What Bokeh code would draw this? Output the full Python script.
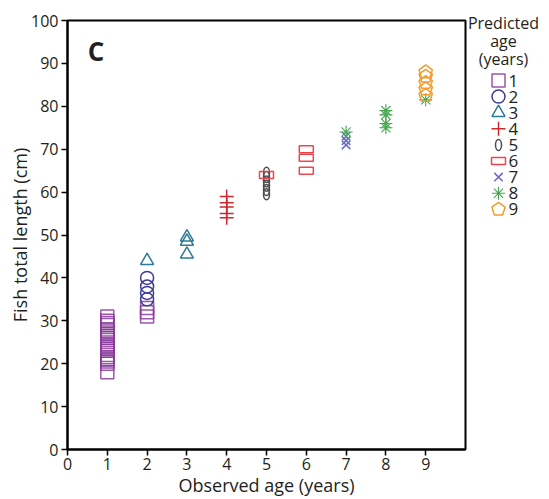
from bokeh.plotting import figure
from bokeh.models import Range1d, FixedTicker, Label
from bokeh.layouts import row
from bokeh.embed import file_html
from bokeh.resources import INLINE
from bokeh.core.properties import value

# ---- data: observed age (x) and total length (cm) grouped by predicted age ----
predicted_ages = [1, 2, 3, 4, 5, 6, 7, 8, 9]

obs_p1 = [1, 1, 1, 1, 1, 1, 1, 1, 1, 1, 1, 1, 1, 1, 1, 1, 1, 1, 1, 1, 2, 2, 2]
len_p1 = [18, 20, 20.5, 21, 21.5, 22, 23, 23.5, 24, 24.5, 25.5, 26, 26.5, 27,
          27.5, 28, 29, 29.5, 30, 31, 31, 32, 33]

obs_p2 = [2, 2, 2, 2]
len_p2 = [35, 36.5, 38, 40]

obs_p3 = [2, 3, 3, 3]
len_p3 = [44, 45.5, 48.5, 49.5]

obs_p4 = [4, 4, 4, 4, 4]
len_p4 = [54, 55, 56.5, 57.5, 59]

obs_p5 = [5, 5, 5, 5, 5, 5]
len_p5 = [59.5, 60.5, 61.5, 62.5, 63.5, 64.5]

obs_p6 = [5, 6, 6, 6]
len_p6 = [64, 65, 68, 70]

obs_p7 = [7, 7, 7]
len_p7 = [71, 72, 73]

obs_p8 = [7, 8, 8, 8, 8, 9]
len_p8 = [74, 75, 76, 78, 79, 81.5]

obs_p9 = [9, 9, 9, 9, 9]
len_p9 = [82.5, 84, 85.5, 87, 88]

x_ticks = [0, 1, 2, 3, 4, 5, 6, 7, 8, 9]
y_ticks = [0, 10, 20, 30, 40, 50, 60, 70, 80, 90, 100]

COLORS = {
    1: "#8A3A9C", 2: "#3E3A9A", 3: "#2C7A93", 4: "#CC2A2E", 5: "#4D4D4D",
    6: "#EE4650", 7: "#6B6BC4", 8: "#44A94E", 9: "#F39C2C",
}
FONT = "Open Sans"
TEXT_COLOR = "#231F20"
LW = 1.5


def draw_marker(fig, age, xs, ys):
    """Draw the symbol used for one predicted-age class."""
    c = COLORS[age]
    common = dict(line_color=c, line_width=LW)
    if age == 1:
        fig.scatter(xs, ys, marker="square", size=13, fill_color=None, line_alpha=0.85, **common)
    elif age == 2:
        fig.scatter(xs, ys, marker="circle", size=13, fill_color=None, **common)
    elif age == 3:
        fig.scatter(xs, ys, marker="triangle", size=13, fill_color=None, **common)
    elif age == 4:
        fig.scatter(xs, ys, marker="cross", size=14, **common)
    elif age == 5:
        fig.ellipse(xs, ys, width=6, height=11, width_units="screen",
                    height_units="screen", fill_color=None, **common)
    elif age == 6:
        fig.rect(xs, ys, width=14, height=7, width_units="screen",
                 height_units="screen", fill_color=None, **common)
    elif age == 7:
        fig.scatter(xs, ys, marker="x", size=12, **common)
    elif age == 8:
        fig.scatter(xs, ys, marker="asterisk", size=13, line_color=c, line_width=1.1)
    elif age == 9:
        fig.ngon(xs, ys, radius=7, radius_units="screen", n=5, angle=0,
                 fill_color=None, **common)


# ---- main scatter plot ----
p = figure(width=467, height=499, output_backend="svg", toolbar_location=None,
           x_range=Range1d(0, 10), y_range=Range1d(0, 100),
           min_border_left=67, min_border_right=2, min_border_top=20,
           min_border_bottom=47)
p.grid.visible = False
p.outline_line_color = "black"
p.outline_line_width = 2
p.background_fill_color = "white"
p.border_fill_color = "white"

p.xaxis.ticker = FixedTicker(ticks=x_ticks)
p.yaxis.ticker = FixedTicker(ticks=y_ticks)
p.xaxis.axis_label = "Observed age (years)"
p.yaxis.axis_label = "Fish total length (cm)"
for ax in (p.xaxis, p.yaxis):
    ax.axis_line_width = 2
    ax.axis_line_color = "black"
    ax.major_tick_in = 0
    ax.major_tick_out = 6
    ax.major_tick_line_width = 1.5
    ax.minor_tick_line_color = None
    ax.major_label_text_font = FONT
    ax.major_label_text_font_size = "16px"
    ax.major_label_text_color = TEXT_COLOR
    ax.axis_label_text_font = FONT
    ax.axis_label_text_font_size = "18px"
    ax.axis_label_text_font_style = "normal"
    ax.axis_label_text_color = TEXT_COLOR
p.xaxis.major_label_standoff = 2
p.xaxis.axis_label_standoff = 0
p.yaxis.major_label_standoff = 3
p.yaxis.axis_label_standoff = -4

series = {
    1: (obs_p1, len_p1), 2: (obs_p2, len_p2), 3: (obs_p3, len_p3),
    4: (obs_p4, len_p4), 5: (obs_p5, len_p5), 6: (obs_p6, len_p6),
    7: (obs_p7, len_p7), 8: (obs_p8, len_p8), 9: (obs_p9, len_p9),
}
for age in predicted_ages:
    xs, ys = series[age]
    draw_marker(p, age, xs, ys)

p.add_layout(Label(x=0.72, y=93, text="C", text_font=FONT, text_font_size="26px",
                   text_font_style="bold", text_align="center",
                   text_baseline="middle", text_color=TEXT_COLOR))

# ---- legend panel: its own full-height frame, y coordinates in pixels from the top ----
LEG_W = 82
LEG_H = 499
leg = figure(width=LEG_W, height=LEG_H, output_backend="svg", toolbar_location=None,
             x_range=Range1d(0, LEG_W), y_range=Range1d(LEG_H, 0),
             x_axis_type=None, y_axis_type=None,
             min_border_left=0, min_border_right=0, min_border_top=0,
             min_border_bottom=0)
if "frame_align" in leg.properties():
    leg.frame_align = False
leg.grid.visible = False
leg.outline_line_color = None

title_lines = ["Predicted", "age", "(years)"]
title_y = [22, 40, 58]
leg.text([36] * len(title_lines), title_y, text=title_lines, text_font=value(FONT),
         text_font_size="16px", text_align="center", text_baseline="middle",
         text_color=TEXT_COLOR)

entry_top, entry_step = 80, 16.1
for age in predicted_ages:
    yy = entry_top + (age - 1) * entry_step
    draw_marker(leg, age, [31], [yy])
    leg.text([41], [yy], text=[str(age)], text_font=value(FONT),
             text_font_size="17px", text_align="left", text_baseline="middle",
             text_color=TEXT_COLOR)

layout = row(p, leg)
open("out.html", "w").write(file_html(layout, INLINE))
